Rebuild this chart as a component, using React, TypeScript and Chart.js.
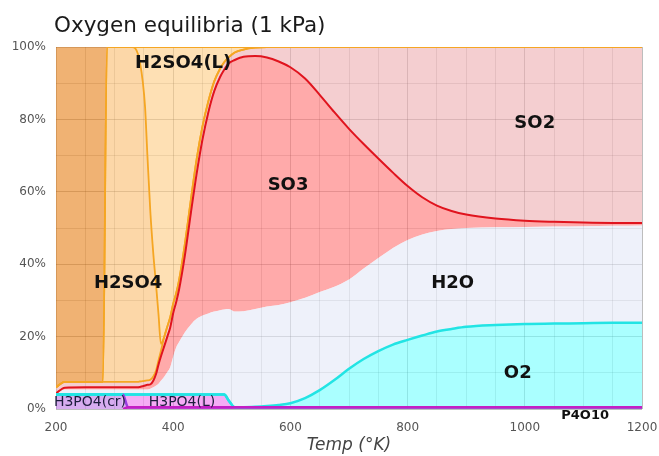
import React, { useEffect, useRef } from 'react';
import { Chart, registerables } from 'chart.js';

Chart.register(...registerables);

const TITLE = 'Oxygen equilibria (1 kPa)';
const X_TITLE = 'Temp (°K)';
const X_TICK_LABELS = [200, 400, 600, 800, 1000, 1200];
const Y_TICK_LABELS = [0, 20, 40, 60, 80, 100];

const TEMPS = [200, 215, 250, 280, 287, 300, 314, 323, 330, 335, 340, 343, 348, 352, 356, 361, 366, 371, 375, 379, 385, 390, 395, 400, 405, 410, 420, 430, 440, 450, 460, 470, 480, 487, 495, 505, 520, 540, 560, 580, 600, 625, 650, 675, 700, 725, 750, 775, 800, 825, 850, 875, 900, 950, 1000, 1050, 1100, 1150, 1200];

const P4O10 = [0, 0, 0, 0, 0, 0, 0, 0.5, 0.5, 0.5, 0.5, 0.5, 0.5, 0.5, 0.5, 0.5, 0.5, 0.5, 0.5, 0.5, 0.5, 0.5, 0.5, 0.5, 0.5, 0.5, 0.5, 0.5, 0.5, 0.5, 0.5, 0.5, 0.5, 0.5, 0.5, 0.5, 0.5, 0.5, 0.5, 0.5, 0.5, 0.5, 0.5, 0.5, 0.5, 0.5, 0.5, 0.5, 0.5, 0.5, 0.5, 0.5, 0.5, 0.5, 0.5, 0.5, 0.5, 0.5, 0.5];
const H3PO4_CR = [4, 4, 4, 4, 4, 4, 4, 0, 0, 0, 0, 0, 0, 0, 0, 0, 0, 0, 0, 0, 0, 0, 0, 0, 0, 0, 0, 0, 0, 0, 0, 0, 0, 0, 0, 0, 0, 0, 0, 0, 0, 0, 0, 0, 0, 0, 0, 0, 0, 0, 0, 0, 0, 0, 0, 0, 0, 0, 0];
const H3PO4_L = [0, 0, 0, 0, 0, 0, 0, 3.5, 3.5, 3.5, 3.5, 3.5, 3.5, 3.5, 3.5, 3.5, 3.5, 3.5, 3.5, 3.5, 3.5, 3.5, 3.5, 3.5, 3.5, 3.5, 3.5, 3.5, 3.5, 3.5, 3.5, 3.5, 3.5, 3.5, 1.8, 0, 0, 0, 0, 0, 0, 0, 0, 0, 0, 0, 0, 0, 0, 0, 0, 0, 0, 0, 0, 0, 0, 0, 0];
const O2 = [0, 0, 0, 0, 0, 0, 0, 0, 0, 0, 0, 0, 0, 0, 0, 0, 0, 0, 0, 0, 0, 0, 0, 0, 0, 0, 0, 0, 0, 0, 0, 0, 0, 0, 0, 0, 0, 0.1, 0.3, 0.6, 1.1, 2.5, 4.7, 7.5, 10.6, 13.3, 15.5, 17.3, 18.6, 19.8, 20.9, 21.6, 22.2, 22.7, 23.0, 23.1, 23.2, 23.3, 23.3];
const H2O = [0.1, 1.4, 1.4, 1.4, 1.4, 1.4, 1.4, 1.4, 1.4, 1.4, 1.4, 1.4, 1.4, 1.4, 1.4, 1.6, 2.0, 2.5, 3.0, 3.8, 5.0, 6.2, 7.6, 10.5, 13.0, 14.5, 17.2, 19.3, 20.9, 21.8, 22.4, 22.9, 23.3, 23.5, 25.3, 26.4, 26.5, 27.0, 27.5, 27.6, 27.9, 27.7, 27.1, 25.8, 24.7, 25.0, 25.7, 26.7, 27.6, 27.9, 27.8, 27.6, 27.3, 27.0, 26.8, 26.8, 26.8, 26.8, 26.9];
const SO3 = [0.2, 0.5, 0.6, 0.6, 0.6, 0.6, 0.6, 0.6, 0.6, 0.6, 0.6, 0.7, 0.9, 1.1, 1.3, 1.2, 1.8, 3.3, 5.3, 6.7, 8.5, 9.8, 11.0, 12.0, 12.5, 14.5, 21.3, 30.7, 40.1, 48.7, 55.6, 60.9, 64.4, 66.2, 67.9, 69.5, 70.3, 69.9, 68.8, 67.3, 64.9, 60.6, 54.5, 48.2, 41.6, 34.4, 27.5, 20.8, 14.9, 10.3, 7.0, 5.0, 3.7, 2.4, 1.7, 1.3, 1.0, 0.8, 0.7];
const SO2 = [1.7, 1.6, 1.5, 1.5, 1.5, 1.5, 1.5, 1.5, 1.5, 1.5, 1.5, 1.5, 1.4, 1.3, 1.2, 1.3, 1.2, 1.0, 1.2, 1.5, 2.6, 2.8, 2.8, 2.6, 2.4, 2.6, 3.2, 3.6, 4.0, 3.6, 3.0, 2.7, 2.3, 2.1, 1.7, 2.1, 2.0, 2.3, 2.9, 4.0, 5.6, 8.7, 13.2, 18.0, 22.6, 26.8, 30.8, 34.7, 38.4, 41.5, 43.8, 45.3, 46.3, 47.4, 48.0, 48.3, 48.5, 48.6, 48.6];
const H2SO4 = [0, 0, 0, 0, 92.5, 92.5, 92.5, 92.5, 92.5, 92.2, 90.5, 88.4, 82.8, 75.6, 62.1, 46.4, 34.0, 23.0, 12.5, 2.0, 0, 0, 0, 0, 0, 0, 0, 0, 0, 0, 0, 0, 0, 0, 0, 0, 0, 0, 0, 0, 0, 0, 0, 0, 0, 0, 0, 0, 0, 0, 0, 0, 0, 0, 0, 0, 0, 0, 0];
const H2SO4_L = [0, 0, 0, 0, 0, 0, 0, 0, 0, 0.3, 2.0, 4.0, 9.5, 16.6, 30.0, 45.5, 57.0, 66.2, 74.0, 82.0, 79.9, 77.2, 74.6, 70.9, 68.1, 64.4, 54.3, 42.4, 31.0, 21.9, 15.0, 9.5, 6.0, 4.2, 2.8, 1.5, 0.7, 0.2, 0, 0, 0, 0, 0, 0, 0, 0, 0, 0, 0, 0, 0, 0, 0, 0, 0, 0, 0, 0, 0];
const H2SO4_CR = [94.0, 92.5, 92.5, 92.5, 0, 0, 0, 0, 0, 0, 0, 0, 0, 0, 0, 0, 0, 0, 0, 0, 0, 0, 0, 0, 0, 0, 0, 0, 0, 0, 0, 0, 0, 0, 0, 0, 0, 0, 0, 0, 0, 0, 0, 0, 0, 0, 0, 0, 0, 0, 0, 0, 0, 0, 0, 0, 0, 0, 0];

const LABEL_TEXT = ['H2SO4(L)', 'H2SO4', 'SO3', 'SO2', 'H2O', 'O2', 'H3PO4(cr)', 'H3PO4(L)', 'P4O10'];
const LABEL_TEMP = [417, 323, 596, 1017, 877, 988, 258, 415, 1103];
const LABEL_PCT = [95.6, 34.8, 61.9, 79.0, 34.8, 9.9, 1.7, 1.7, -1.9];

const FONT = "'DejaVu Sans', sans-serif";
const LABEL_FONT = [
  `bold 18px ${FONT}`, `bold 18px ${FONT}`, `bold 18px ${FONT}`, `bold 18px ${FONT}`,
  `bold 18px ${FONT}`, `bold 18px ${FONT}`, `14px ${FONT}`, `14px ${FONT}`, `bold 13px ${FONT}`,
];
const LABEL_COLOR = ['#111', '#111', '#111', '#111', '#111', '#111', '#1c1c3c', '#1c1c3c', '#111'];

const CYAN = '#22e4e4';
const PURPLE = '#9a3ee0';
const MAGENTA = '#c41ec4';
const ORANGE = '#f5a623';
const RED = '#e0141e';

const textPlugin = {
  id: 'texts',
  afterDatasetsDraw(chart: any) {
    const { ctx, chartArea, scales } = chart;
    const x = scales.x;
    const y = scales.y;
    ctx.save();
    ctx.fillStyle = '#1a1a1a';
    ctx.font = `21.5px ${FONT}`;
    ctx.textAlign = 'left';
    ctx.textBaseline = 'alphabetic';
    ctx.fillText(TITLE, chartArea.left - 2, 32);
    ctx.textAlign = 'center';
    ctx.textBaseline = 'middle';
    LABEL_TEXT.forEach((t, i) => {
      ctx.font = LABEL_FONT[i];
      ctx.fillStyle = LABEL_COLOR[i];
      ctx.fillText(t, x.getPixelForValue(LABEL_TEMP[i]), y.getPixelForValue(LABEL_PCT[i]));
    });
    ctx.restore();
  },
};

export default function App() {
  const ref = useRef<HTMLCanvasElement>(null);
  useEffect(() => {
    const canvas = ref.current!;
    Chart.defaults.font.family = FONT;
    const series: any[] = [
      { label: 'P4O10', values: P4O10, bg: 'rgba(200,30,200,0.7)', border: MAGENTA, width: 2.5,
        segment: { borderColor: (c: any) => (c.p1.parsed.y > 0 ? MAGENTA : 'transparent') } },
      { label: 'H3PO4(cr)', values: H3PO4_CR, bg: 'rgba(188,117,230,0.6)', border: CYAN, width: 2.5,
        segment: { borderColor: (c: any) => (c.p1.parsed.y > 0 ? CYAN : PURPLE) } },
      { label: 'H3PO4(L)', values: H3PO4_L, bg: 'rgba(238,117,238,0.6)', border: CYAN, width: 2.5 },
      { label: 'O2', values: O2, bg: 'rgba(113,255,255,0.6)', border: CYAN, width: 2.5 },
      { label: 'H2O', values: H2O, bg: 'rgba(227,232,247,0.6)', border: 'transparent', width: 0 },
      { label: 'SO3', values: SO3, bg: 'rgba(255,113,113,0.6)', border: RED, width: 2 },
      { label: 'SO2', values: SO2, bg: 'rgba(237,173,177,0.6)', border: ORANGE, width: 1.8 },
      { label: 'H2SO4', values: H2SO4, bg: 'rgba(250,188,110,0.6)', border: ORANGE, width: 1.8 },
      { label: 'H2SO4(L)', values: H2SO4_L, bg: 'rgba(253,203,130,0.6)', border: ORANGE, width: 1.8 },
      { label: 'H2SO4(cr)', values: H2SO4_CR, bg: 'rgba(230,127,22,0.6)', border: 'transparent', width: 0 },
    ];
    const MINOR = 'rgba(0,0,0,0.16)';
    const MAJOR = 'rgba(0,0,0,0.26)';
    const chart = new Chart(canvas, {
      type: 'line',
      data: {
        datasets: series.map((s, i) => ({
          label: s.label,
          data: TEMPS.map((t, k) => ({ x: t, y: s.values[k] })),
          backgroundColor: s.bg,
          borderColor: s.border,
          borderWidth: s.width,
          fill: i === 0 ? 'origin' : '-1',
          pointRadius: 0,
          pointHoverRadius: 0,
          cubicInterpolationMode: 'monotone',
          segment: s.segment,
        })),
      },
      options: {
        responsive: false,
        animation: false,
        events: [],
        layout: { padding: { left: 0, right: 17, top: 47, bottom: 0 } },
        plugins: {
          legend: { display: false },
          tooltip: { enabled: false },
          title: { display: false },
          filler: { propagate: false, drawTime: 'beforeDatasetsDraw' },
        },
        scales: {
          x: {
            type: 'linear',
            min: 200,
            max: 1200,
            afterFit: (s: any) => { s.height = 47; s.paddingLeft = 0; s.paddingRight = 0; },
            border: { display: false },
            grid: {
              drawTicks: false,
              color: (c: any) => (X_TICK_LABELS.includes(c.tick?.value) ? MAJOR : MINOR),
            },
            ticks: {
              stepSize: 50,
              autoSkip: false,
              maxRotation: 0,
              padding: 12,
              color: '#555',
              font: { size: 12, family: FONT },
              callback: (v: any) => (X_TICK_LABELS.includes(v) ? String(v) : ''),
            },
            title: {
              display: true,
              text: X_TITLE,
              color: '#444',
              font: { size: 17, style: 'italic', family: FONT },
              padding: { top: 0, bottom: 0 },
            },
          },
          y: {
            stacked: true,
            min: 0,
            max: 100,
            afterFit: (s: any) => { s.width = 56; s.paddingTop = 0; s.paddingBottom = 0; },
            border: { display: false },
            grid: {
              drawTicks: false,
              color: (c: any) => (Y_TICK_LABELS.includes(c.tick?.value) ? MAJOR : MINOR),
            },
            ticks: {
              stepSize: 10,
              autoSkip: false,
              padding: 10,
              color: '#555',
              font: { size: 12, family: FONT },
              callback: (v: any) => (Y_TICK_LABELS.includes(v) ? `${v}%` : ''),
            },
          },
        },
      },
      plugins: [textPlugin],
    } as any);
    return () => chart.destroy();
  }, []);
  return (
    <canvas
      ref={ref}
      width={659}
      height={456}
      style={{ position: 'absolute', left: 0, top: 0, display: 'block', width: 659, height: 456 }}
    />
  );
}
